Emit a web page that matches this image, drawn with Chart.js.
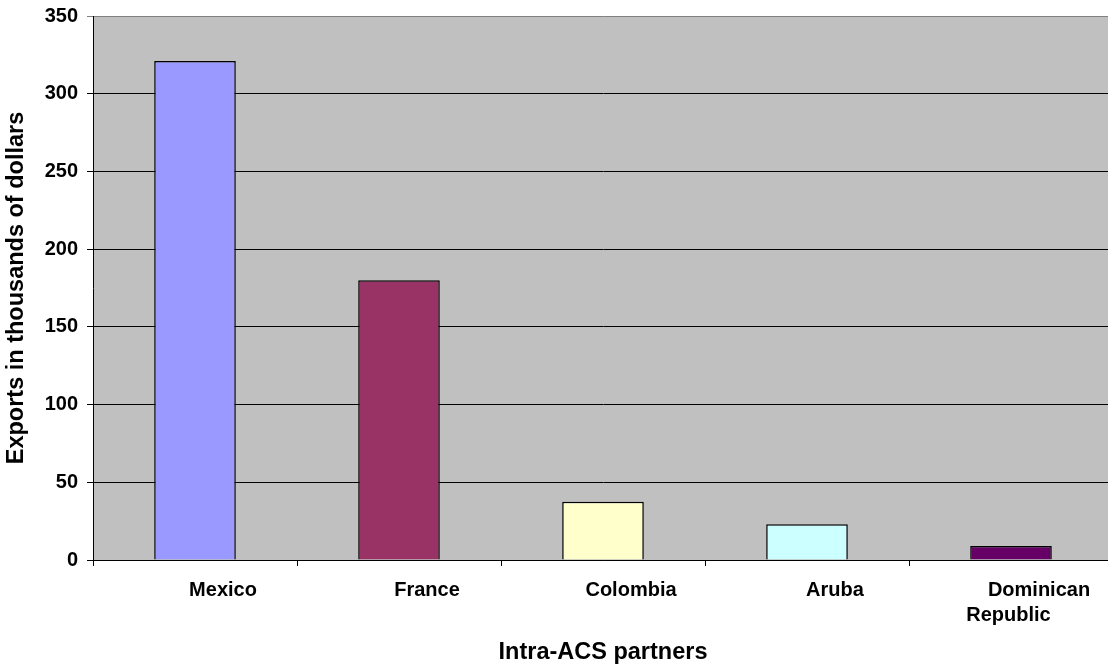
<!DOCTYPE html>
<html>
<head>
<meta charset="utf-8">
<script src="https://cdn.jsdelivr.net/npm/chart.js@4.4.1/dist/chart.umd.min.js"></script>
<style>
  html, body { margin: 0; padding: 0; background: #fff; overflow: hidden; }
  #wrap { width: 1125px; height: 671px; }
</style>
</head>
<body>
<div id="wrap"><canvas id="chart" width="1125" height="671"></canvas></div>
<script>
// partners, export values (thousands of dollars) and bar fills
const partners = ["Mexico", "France", "Colombia", "Aruba", ["Dominican", "Republic           "]];
const exportsValues = [321, 180, 37.5, 23, 9];
const barColors = ["#9999FF", "#993366", "#FFFFCC", "#CCFFFF", "#660066"];
const yTicks = [0, 50, 100, 150, 200, 250, 300, 350];

const FONT = "'Liberation Sans', Arial, sans-serif";

// grey plot background like the old spreadsheet charts
const plotBackground = {
  id: "plotBackground",
  beforeDraw(chart) {
    const { ctx, chartArea: a } = chart;
    ctx.save();
    ctx.fillStyle = "#C0C0C0";
    ctx.fillRect(a.left, a.top, a.right - a.left, a.bottom - a.top);
    ctx.restore();
  },
};

const ctx = document.getElementById("chart").getContext("2d");
new Chart(ctx, {
  type: "bar",
  data: {
    labels: partners,
    datasets: [
      {
        data: exportsValues,
        backgroundColor: barColors,
        borderColor: "#000",
        borderWidth: 1.5,
        categoryPercentage: 1,
        barPercentage: 0.4,
      },
    ],
  },
  options: {
    responsive: false,
    devicePixelRatio: 1,
    animation: false,
    layout: { padding: { top: 16, right: 12, left: 0, bottom: 0 } },
    plugins: {
      legend: { display: false },
      tooltip: { enabled: false },
    },
    scales: {
      x: {
        offset: true,
        grid: {
          offset: true,
          drawOnChartArea: false,
          color: "#000",
          tickLength: 6,
        },
        border: { color: "#000" },
        ticks: {
          color: "#000",
          font: { family: FONT, size: 20, weight: "bold", lineHeight: 1.25 },
          padding: 12,
          labelOffset: 28,
          maxRotation: 0,
          autoSkip: false,
        },
        title: {
          display: true,
          text: "Intra-ACS partners",
          color: "#000",
          font: { family: FONT, size: 23.5, weight: "bold" },
          padding: { top: 4, bottom: 4 },
        },
        afterFit(scale) {
          scale.height = 111;
        },
      },
      y: {
        min: 0,
        max: 350,
        afterBuildTicks(scale) {
          scale.ticks = yTicks.map((v) => ({ value: v }));
        },
        grid: {
          color: (c) => (c.tick && c.tick.value === 350 ? "#808080" : "#000"),
          tickLength: 6,
        },
        border: { color: "#000" },
        ticks: {
          color: "#000",
          font: { family: FONT, size: 20, weight: "bold" },
          padding: 9,
        },
        title: {
          display: true,
          text: "Exports in thousands of dollars",
          color: "#000",
          font: { family: FONT, size: 23.5, weight: "bold" },
          padding: { top: 2, bottom: 4 },
        },
        afterFit(scale) {
          scale.width = 93;
          // no extra room for the top label, the layout padding handles it
          scale.paddingTop = 0;
          scale.paddingBottom = 0;
        },
      },
    },
  },
  plugins: [plotBackground],
});
</script>
</body>
</html>
